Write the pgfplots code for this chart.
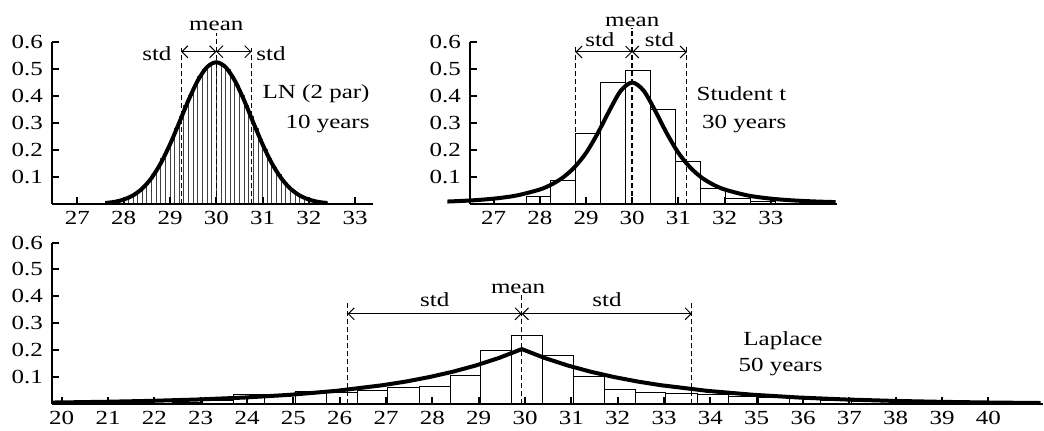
\documentclass[border=0pt]{standalone}
\usepackage{fontspec}
\setmainfont{Liberation Serif}
\usepackage{graphicx}
\usepackage{pgfplots}
\pgfplotsset{compat=1.18}
\usetikzlibrary{arrows.meta}

% the reference lettering is wider than plain Times
\newcommand{\sx}[1]{\scalebox{1.25}[1]{#1}}

\pgfplotsset{
  panel/.style={
    scale only axis, anchor=south west,
    axis lines*=left, axis line style={-, line width=1.3pt},
    tick align=inside, major tick length=3.5pt,
    tick style={line width=1pt, black},
    ymin=0, ymax=0.6, ytick={0.1,0.2,0.3,0.4,0.5,0.6},
    clip=false, axis on top,
    /pgf/number format/assume math mode=true,
    xticklabel={\sx{\pgfmathprintnumber{\tick}}},
    yticklabel={\sx{\pgfmathprintnumber[fixed,precision=1]{\tick}}},
    yticklabel style={xshift=-1pt},
  },
  curve/.style={line width=2pt, black},
  bars/.style={ybar interval, fill=white, draw=black, line width=0.4pt},
}
\tikzset{
  dline/.style={dash pattern=on 2.5pt off 1.5pt, line width=0.6pt},
  arr/.style={line width=0.5pt, {Straight Barb[length=3pt,width=6pt]}-{Straight Barb[length=3pt,width=6pt]}},
  lab/.style={inner sep=0},
}

\begin{document}
\begin{tikzpicture}
\useasboundingbox (0,0) rectangle (522pt,215pt);

% LN (2 par), 10 years
\begin{axis}[panel, at={(26pt,113pt)}, width=160.35pt, height=81pt,
    xmin=26.45, xmax=33.38, xtick={27,...,33}]
  \addplot[bars, draw=black!75] coordinates {
    (27.7,0.0066) (27.8,0.0096) (27.9,0.0138) (28.0,0.0195) (28.1,0.0271)
    (28.2,0.0371) (28.3,0.0497) (28.4,0.0656) (28.5,0.0851) (28.6,0.1084)
    (28.7,0.1357) (28.8,0.1671) (28.9,0.2022) (29.0,0.2404) (29.1,0.2809)
    (29.2,0.3227) (29.3,0.3642) (29.4,0.4040) (29.5,0.4406) (29.6,0.4722)
    (29.7,0.4973) (29.8,0.5149) (29.9,0.5239) (30.0,0.5239) (30.1,0.5149)
    (30.2,0.4973) (30.3,0.4722) (30.4,0.4406) (30.5,0.4040) (30.6,0.3642)
    (30.7,0.3227) (30.8,0.2809) (30.9,0.2404) (31.0,0.2022) (31.1,0.1671)
    (31.2,0.1357) (31.3,0.1084) (31.4,0.0851) (31.5,0.0656) (31.6,0.0497)
    (31.7,0.0371) (31.8,0.0271) (31.9,0.0195) (32.0,0.0138) (32.1,0.0096)
    (32.2,0.0066) (32.3,0.0044) (32.4,0)
  };
  \addplot[curve, smooth] coordinates {
    (27.6,0.0036) (27.8,0.0079) (28.0,0.0165) (28.2,0.0318) (28.4,0.0572)
    (28.6,0.0962) (28.8,0.1509) (29.0,0.2209) (29.2,0.3017) (29.4,0.3845)
    (29.6,0.4571) (29.8,0.5071) (30.0,0.5250) (30.2,0.5071) (30.4,0.4571)
    (30.6,0.3845) (30.8,0.3017) (31.0,0.2209) (31.2,0.1509) (31.4,0.0962)
    (31.6,0.0572) (31.8,0.0318) (32.0,0.0165) (32.2,0.0079) (32.4,0.0036)
  };
  \draw[dline] (axis cs:30,0) -- (axis cs:30,0.633);
  \draw[dline] (axis cs:29.24,0) -- (axis cs:29.24,0.578);
  \draw[dline] (axis cs:30.76,0) -- (axis cs:30.76,0.578);
  \draw[arr] (axis cs:29.24,0.564) -- (axis cs:30,0.564);
  \draw[arr] (axis cs:30,0.564) -- (axis cs:30.76,0.564);
  \node[lab, anchor=base] at (axis cs:30,0.641) {\sx{mean}};
  \node[lab, anchor=base east] at (axis cs:29.04,0.533) {\sx{std}};
  \node[lab, anchor=base west] at (axis cs:30.86,0.533) {\sx{std}};
  \node[lab, anchor=base east] at (axis cs:33.32,0.391) {\sx{LN (2 par)}};
  \node[lab, anchor=base east] at (axis cs:33.32,0.280) {\sx{10 years}};
\end{axis}

% Student t, 30 years
\begin{axis}[panel, at={(235pt,113pt)}, width=183.5pt, height=81pt,
    xmin=26.49, xmax=34.43, xtick={27,...,33}]
  \addplot[bars] coordinates {
    (27.70,0.030) (28.24,0.089) (28.78,0.262) (29.32,0.449) (29.86,0.495)
    (30.40,0.349) (30.94,0.157) (31.48,0.058) (32.02,0.021) (32.56,0.010)
    (33.10,0)
  };
  \addplot[curve, smooth] coordinates {
    (26.0,0.0091) (26.5,0.0131) (27.0,0.0198) (27.5,0.0316) (28.0,0.0537)
    (28.25,0.072) (28.5,0.098) (28.75,0.136) (29.0,0.189) (29.25,0.261)
    (29.5,0.344) (29.75,0.419) (30.0,0.450) (30.25,0.419) (30.5,0.344)
    (30.75,0.261) (31.0,0.189) (31.25,0.136) (31.5,0.098) (31.75,0.072)
    (32.0,0.0537) (32.5,0.0316) (33.0,0.0198) (33.5,0.0131) (34.0,0.0091)
    (34.4,0.0070)
  };
  \draw[dline, line width=0.9pt] (axis cs:30,0) -- (axis cs:30,0.652);
  \draw[dline] (axis cs:28.77,0) -- (axis cs:28.77,0.589);
  \draw[dline] (axis cs:31.18,0) -- (axis cs:31.18,0.589);
  \draw[arr] (axis cs:28.77,0.563) -- (axis cs:30,0.563);
  \draw[arr] (axis cs:30,0.563) -- (axis cs:31.18,0.563);
  \node[lab, anchor=base] at (axis cs:30,0.659) {\sx{mean}};
  \node[lab, anchor=base] at (axis cs:29.3,0.583) {\sx{std}};
  \node[lab, anchor=base] at (axis cs:30.59,0.583) {\sx{std}};
  \node[lab, anchor=base east] at (axis cs:33.34,0.385) {\sx{Student t}};
  \node[lab, anchor=base east] at (axis cs:33.34,0.280) {\sx{30 years}};
\end{axis}

% Laplace, 50 years
\begin{axis}[panel, at={(26pt,13pt)}, width=495.5pt, height=80.75pt,
    xmin=19.79, xmax=41.18, xtick={20,...,40}]
  \addplot[bars] coordinates {
    (21.04,0.003) (21.71,0.004) (22.38,0.006) (23.04,0.015) (23.71,0.037)
    (24.38,0.034) (25.04,0.046) (25.71,0.042) (26.38,0.052) (27.04,0.063)
    (27.71,0.065) (28.38,0.108) (29.04,0.200) (29.71,0.256) (30.38,0.182)
    (31.04,0.101) (31.71,0.055) (32.38,0.043) (33.04,0.040) (33.71,0.036)
    (34.38,0.030) (35.04,0.025) (35.71,0.021) (36.38,0.015) (37.04,0.010)
    (37.71,0)
  };
  \addplot[curve] coordinates {
    (19.79,0.0055) (19.93,0.0057) (20.93,0.0082) (21.93,0.0117) (22.93,0.0167)
    (23.93,0.0239) (24.93,0.0342) (25.93,0.0489) (26.93,0.0699) (27.43,0.0835)
    (27.93,0.0999) (28.43,0.1194) (28.93,0.1427) (29.43,0.1706) (29.93,0.2040)
    (30.43,0.1706) (30.93,0.1427) (31.43,0.1194) (31.93,0.0999) (32.43,0.0835)
    (32.93,0.0699) (33.93,0.0489) (34.93,0.0342) (35.93,0.0239) (36.93,0.0167)
    (37.93,0.0117) (38.93,0.0082) (39.93,0.0057) (40.93,0.0040) (41.13,0.0037)
  };
  \draw[dline] (axis cs:29.93,0) -- (axis cs:29.93,0.405);
  \draw[dline] (axis cs:26.17,0) -- (axis cs:26.17,0.374);
  \draw[dline] (axis cs:33.6,0) -- (axis cs:33.6,0.374);
  \draw[arr] (axis cs:26.17,0.335) -- (axis cs:29.93,0.335);
  \draw[arr] (axis cs:29.93,0.335) -- (axis cs:33.6,0.335);
  \node[lab, anchor=base] at (axis cs:29.85,0.41) {\sx{mean}};
  \node[lab, anchor=base] at (axis cs:28.05,0.364) {\sx{std}};
  \node[lab, anchor=base] at (axis cs:31.77,0.364) {\sx{std}};
  \node[lab, anchor=base east] at (axis cs:36.43,0.219) {\sx{Laplace}};
  \node[lab, anchor=base east] at (axis cs:36.43,0.120) {\sx{50 years}};
\end{axis}
\end{tikzpicture}
\end{document}
